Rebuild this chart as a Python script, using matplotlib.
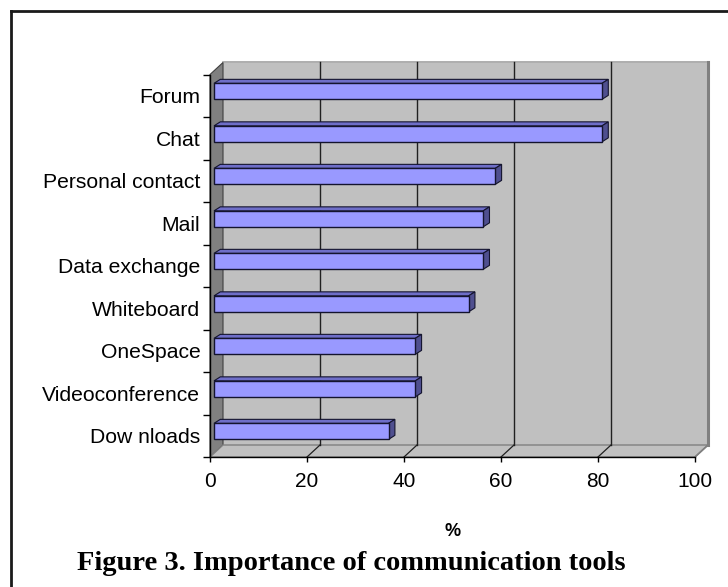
import matplotlib
matplotlib.use("Agg")
import matplotlib.pyplot as plt
from matplotlib.patches import Polygon, Rectangle
from matplotlib.lines import Line2D
import numpy as np

# ---- data (top to bottom as shown) ----
categories = ["Forum", "Chat", "Personal contact", "Mail", "Data exchange",
              "Whiteboard", "OneSpace", "Videoconference", "Dow nloads"]
values = [80, 80, 58, 55.5, 55.5, 52.5, 41.5, 41.5, 36]
x_ticks = [0, 20, 40, 60, 80, 100]
x_label = "%"
title = "Figure 3. Importance of communication tools"

W, H = 728, 587
fig = plt.figure(figsize=(W / 100, H / 100), dpi=100)
fig.patch.set_facecolor("white")

# front plane of the 3D plot
L, R, T, B = 210, 695, 74.5, 457
ax = fig.add_axes([L / W, (H - B) / H, (R - L) / W, (B - T) / H])
n = len(categories)
ax.set_xlim(0, 100)
ax.set_ylim(-0.5, n - 0.5)
ax.patch.set_visible(False)

ux = 100 / (R - L)      # data units per pixel (x)
uy = n / (B - T)        # data units per pixel (y)

# wall depth offset
WX, WY = 13 * ux, 12 * uy
# bar geometry
FX, FY = 4 * ux, 4.4 * uy      # bar front face offset
BX, BY = 6.3 * ux, 4.0 * uy    # bar depth
BH = 16 * uy                   # bar thickness

y0, y1 = -0.5, n - 0.5
kw = dict(clip_on=False)

# back wall
ax.add_patch(Rectangle((WX, y0 + WY), 100, n, fc="#C0C0C0", ec="none", zorder=0.2, **kw))
ax.plot([WX, 100 + WX], [y1 + WY, y1 + WY], color="#A0A0A0", lw=1.2, zorder=0.3, **kw)
ax.plot([100 + WX, 100 + WX], [y0 + WY, y1 + WY], color="#808080", lw=2.2, zorder=0.3, **kw)
# left wall
ax.add_patch(Polygon([(0, y0), (0, y1), (WX, y1 + WY), (WX, y0 + WY)],
                     closed=True, fc="#808080", ec="#404040", lw=0.8, zorder=0.4, **kw))
# floor
ax.add_patch(Polygon([(0, y0), (100, y0), (100 + WX, y0 + WY), (WX, y0 + WY)],
                     closed=True, fc="#C0C0C0", ec="#808080", lw=1.0, zorder=0.4, **kw))
ax.plot([100, 100 + WX], [y0, y0 + WY], color="#808080", lw=1.2, zorder=0.5, **kw)

# gridlines on back wall and floor
for xv in x_ticks[1:-1]:
    ax.plot([xv + WX, xv + WX], [y0 + WY, y1 + WY], color="#202020", lw=1.0, zorder=0.6, **kw)
    ax.plot([xv, xv + WX], [y0, y0 + WY], color="#202020", lw=0.9, zorder=0.6, **kw)

# bars
pos = np.arange(n)[::-1]
ax.barh(pos + FY, values, left=FX, height=BH, color="#9999FF",
        edgecolor="#14142e", linewidth=1.0, zorder=3)
for p, v in zip(pos, values):
    yc = p + FY
    top = [(FX, yc + BH / 2), (FX + v, yc + BH / 2),
           (FX + v + BX, yc + BH / 2 + BY), (FX + BX, yc + BH / 2 + BY)]
    side = [(FX + v, yc - BH / 2), (FX + v + BX, yc - BH / 2 + BY),
            (FX + v + BX, yc + BH / 2 + BY), (FX + v, yc + BH / 2)]
    ax.add_patch(Polygon(top, closed=True, fc="#6E6EC8", ec="#14142e", lw=0.8, zorder=2.9, **kw))
    ax.add_patch(Polygon(side, closed=True, fc="#4F4F8F", ec="#14142e", lw=0.8, zorder=2.9, **kw))

# axes styling
for s in ["top", "right"]:
    ax.spines[s].set_visible(False)
for s in ["left", "bottom"]:
    ax.spines[s].set_color("black")
    ax.spines[s].set_linewidth(1.0)
    ax.spines[s].set_zorder(1)

ax.set_yticks(pos)
ax.set_yticklabels(categories, fontsize=15.2, family="Liberation Sans")
ax.set_yticks(np.arange(y0, y1 + 0.01, 1), minor=True)
ax.tick_params(axis="y", which="major", length=0, pad=7)
ax.tick_params(axis="y", which="minor", length=5, width=1, direction="out", color="black")

ax.set_xticks(x_ticks)
ax.set_xticklabels([str(t) for t in x_ticks], fontsize=15, family="Liberation Sans")
ax.tick_params(axis="x", which="major", length=3.6, width=1, direction="out", pad=7.5)

fig.text((L + R) / 2 / W, 1 - 532 / H, x_label, ha="center", va="center",
         fontsize=13, fontweight="bold", family="Liberation Sans")
fig.text(77 / W, 1 - 564 / H, title, ha="left", va="center",
         fontsize=20.5, fontweight="bold", family="Liberation Serif")

# frame around the figure (top and left visible)
fig.add_artist(Line2D([11 / W, 1.0], [1 - 11 / H, 1 - 11 / H], transform=fig.transFigure,
                      color="#1a1a1a", lw=2))
fig.add_artist(Line2D([11 / W, 11 / W], [1 - 11 / H, 0.0], transform=fig.transFigure,
                      color="#1a1a1a", lw=2))

fig.savefig("out.png", dpi=100)
